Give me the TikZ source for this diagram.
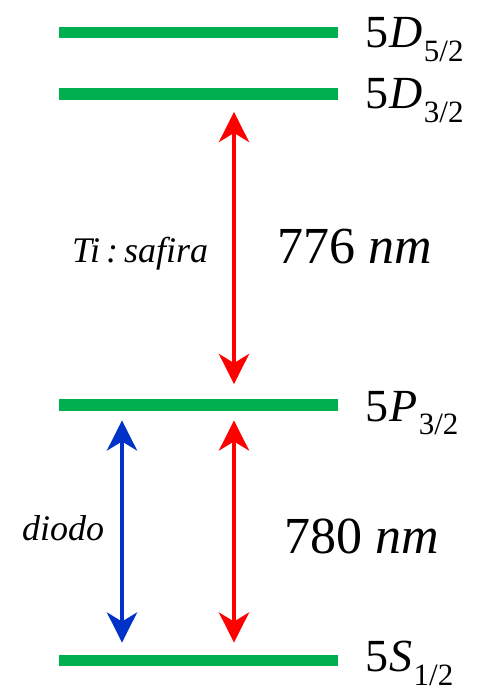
\documentclass[tikz,border=0pt]{standalone}
\usepackage{fontspec}
\setmainfont{Liberation Serif}
\usetikzlibrary{arrows.meta, positioning, calc}

\definecolor{lvlgreen}{RGB}{0,176,80}
\definecolor{lasred}{RGB}{255,0,0}
\definecolor{lasblue}{RGB}{0,50,200}

\newcommand{\lvlname}[2]{5\kern1pt\textit{#1}\kern1pt\raisebox{-0.3em}{\fontsize{31}{31}\selectfont #2}}

\begin{document}
\begin{tikzpicture}[
    x=1pt, y=-1pt,
    level/.style={
        fill=lvlgreen,
        inner sep=0pt,
        minimum width=279pt,
        minimum height=11.5pt
    },
    lbl/.style={anchor=base west, inner sep=0pt, font=\fontsize{46}{46}\selectfont},
    wave/.style={anchor=base west, inner sep=0pt, font=\fontsize{52}{52}\selectfont},
    laser/.style={anchor=base west, inner sep=0pt, font=\fontsize{36}{36}\selectfont\itshape},
    beam/.style={
        {Stealth[length=30pt, width=30pt, inset=9pt]}-{Stealth[length=30pt, width=30pt, inset=9pt]},
        line width=4.5pt
    }
]
\useasboundingbox (0,0) rectangle (488,692);

% energy levels
\node[level] (D5) at (198.5,32.5) {};
\node[level] (D3) at (198.5,94) {};
\node[level] (P3) at (198.5,405) {};
\node[level] (S1) at (198.5,660.5) {};

\node[lbl] (D5lbl) at ([xshift=167pt, yshift=-15pt]D5.center) {\lvlname{D}{5/2}};
\node[lbl] (D3lbl) at ([xshift=167pt, yshift=-15pt]D3.center) {\lvlname{D}{3/2}};
\node[lbl] (P3lbl) at ([xshift=167pt, yshift=-16pt]P3.center) {\lvlname{P}{3/2}};
\node[lbl] (S1lbl) at ([xshift=167pt, yshift=-11pt]S1.center) {\lvlname{S}{1/2}};

% transitions
\draw[beam, lasred, shorten <=12pt, shorten >=15pt]
    ([xshift=35.5pt]D3.south) -- ([xshift=35.5pt]P3.north);
\draw[beam, lasred, shorten <=9.5pt, shorten >=12pt]
    ([xshift=35.5pt]P3.south) -- ([xshift=35.5pt]S1.north);
\draw[beam, lasblue, shorten <=9.5pt, shorten >=12pt]
    ([xshift=-76.5pt]P3.south) -- ([xshift=-76.5pt]S1.north);

\node[laser] (tisaf) at (72,262) {Ti\,:\,safira};
\node[wave] (nm776) at (277,263) {776 \textit{nm}};
\node[laser] (diodo) at (22,540) {diodo};
\node[wave] (nm780) at (284,553) {780 \textit{nm}};

\end{tikzpicture}
\end{document}
